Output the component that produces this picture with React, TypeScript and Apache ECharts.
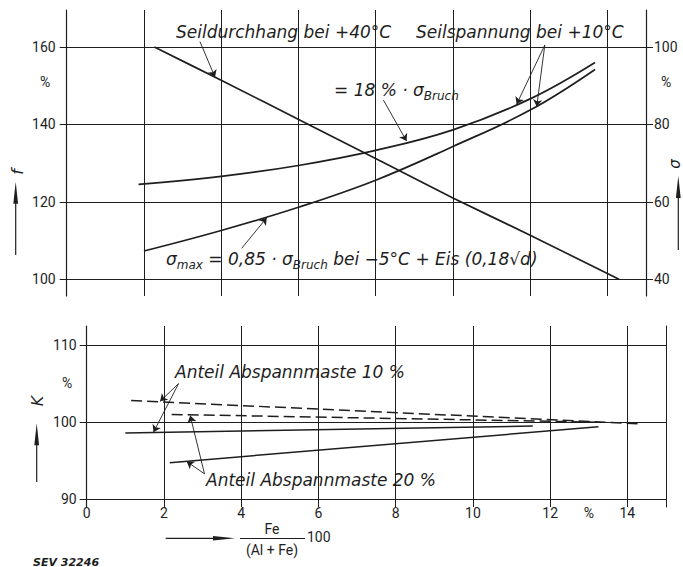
import React, { useEffect, useRef } from 'react';
import * as echarts from 'echarts';

// ---------- upper diagram (abscissa in grid units of the upper diagram) ----------
const topGridTicks = [0, 2, 4, 6, 8, 10, 12, 14]; // vertical grid lines, right border at 15
const topXMax = 15;
const fTicks = [100, 120, 140, 160]; // left axis  f  (%)
const sigmaTicks = [40, 60, 80, 100]; // right axis σ (%)

// Seildurchhang bei +40 °C  (f, left axis)
const sagX = [2.27, 4.0, 6.26, 8.1, 10.0, 12.0, 14.3];
const sagF = [160, 151.4, 140.0, 130.7, 121.0, 111.4, 100];
// Seilspannung = 18 % · σBruch (σ, right axis)
const tension18X = [1.86, 4, 6, 8, 10, 12, 13.68];
const tension18S = [64.5, 66.6, 69.4, 73.3, 78.6, 86.6, 96.0];
// Seilspannung σmax = 0,85 · σBruch (σ, right axis)
const tensionMaxX = [2.0, 4, 6, 8, 10, 12, 13.68];
const tensionMaxS = [47.3, 52.6, 58.6, 65.6, 74.3, 83.7, 94.2];

// leader lines of the labels, [from, to] in (x, f)
const topLeaders = [
  [[3.45, 161.4], [3.84, 152.2]],
  [[8.2, 146.3], [8.8, 135.7]],
  [[12.38, 160.5], [11.65, 145.2]],
  [[12.38, 160.5], [12.17, 144.6]],
  [[4.53, 108.0], [5.18, 115.9]],
];

// ---------- lower diagram ----------
const feTicks = [0, 2, 4, 6, 8, 10, 12, 14];
const feMax = 15;
const kTicks = [90, 100, 110];

const k10DashX = [1.15, 14.3];
const k10DashK = [102.8, 99.8];
const k20DashX = [2.2, 13.2];
const k20DashK = [101.0, 100.0];
const k10SolidX = [1.0, 11.55];
const k10SolidK = [98.6, 99.5];
const k20SolidX = [2.15, 13.25];
const k20SolidK = [94.75, 99.4];

const bottomLeaders = [
  [[2.38, 105.0], [1.9, 102.7]],
  [[2.38, 105.0], [1.73, 98.7]],
  [[3.05, 93.3], [2.68, 100.85]],
  [[3.05, 93.3], [2.59, 94.9]],
];

// ---------- layout ----------
const INK = '#1e1e1e';
const FONT = 'Roboto';
const LETTER = '"DejaVu Sans"';
const L_TOP = { left: 66.7, right: 646, outerTop: 10, plotTop: 47, plotBottom: 279.3, outerBottom: 296 };
const L_BOT = { left: 86.7, right: 666, outerTop: 326, plotTop: 345, plotBottom: 499.3, outerBottom: 507 };

export default function App() {
  const ref = useRef<HTMLDivElement>(null);
  useEffect(() => {
    if (!ref.current) return;
    const chart = echarts.init(ref.current, undefined, { renderer: 'svg' });
    const W = 683;

    const fMin = fTicks[0], fMax = fTicks[fTicks.length - 1];
    const pxPerF = (L_TOP.plotBottom - L_TOP.plotTop) / (fMax - fMin);
    const fOuterMax = fMax + (L_TOP.plotTop - L_TOP.outerTop) / pxPerF;
    const fOuterMin = fMin - (L_TOP.outerBottom - L_TOP.plotBottom) / pxPerF;
    const kMin = kTicks[0], kMax = kTicks[kTicks.length - 1];
    const pxPerK = (L_BOT.plotBottom - L_BOT.plotTop) / (kMax - kMin);
    const kOuterMax = kMax + (L_BOT.plotTop - L_BOT.outerTop) / pxPerK;
    const kOuterMin = kMin - (L_BOT.outerBottom - L_BOT.plotBottom) / pxPerK;

    const zip = (xs: number[], ys: number[]) => xs.map((x, i) => [x, ys[i]]);
    const curve = (name: string, xs: number[], ys: number[], xi: number, yi: number, extra: any = {}) => ({
      type: 'line', name, xAxisIndex: xi, yAxisIndex: yi, data: zip(xs, ys), symbol: 'none',
      silent: true, clip: false, lineStyle: { color: INK, width: 1.7 }, ...extra,
    });
    const leaders = (xi: number, yi: number, list: number[][][]) => ({
      type: 'line', xAxisIndex: xi, yAxisIndex: yi, data: [], silent: true, clip: false,
      markLine: {
        silent: true, symbol: ['none', 'arrow'], symbolSize: 7, animation: false,
        label: { show: false }, emphasis: { disabled: true },
        lineStyle: { color: INK, width: 0.9, type: 'solid' },
        data: list.map(([a, b]) => [{ coord: a }, { coord: b }]),
      },
    });

    const hiddenAxis = { axisLine: { show: false }, axisTick: { show: false }, axisLabel: { show: false }, splitLine: { show: false } };
    const gridLine = { show: true, lineStyle: { color: INK, width: 1 } };
    const label = (margin: number) => ({ color: INK, fontFamily: FONT, fontSize: 14, margin });
    const tick = { show: true, length: 7, lineStyle: { color: INK, width: 1 } };

    const italic = { fontFamily: LETTER, fontStyle: 'italic', fontSize: 17, fill: INK };
    const upright = { fontFamily: FONT, fontStyle: 'normal', fontSize: 14 };
    const txt = (x: number, y: number, text: string, st: any = {}, el: any = {}) => ({
      type: 'text', x, y, silent: true, ...el,
      style: { text, ...italic, verticalAlign: 'middle', align: 'left', ...st },
    });
    const richStyle = {
      n: { fontFamily: LETTER, fontStyle: 'italic', fontSize: 17, fill: INK, color: INK, lineHeight: 23, verticalAlign: 'middle' },
      s: { fontFamily: LETTER, fontStyle: 'italic', fontSize: 12, fill: INK, color: INK, lineHeight: 12, verticalAlign: 'bottom' },
    };
    const arrowUp = (x: number, yBottom: number, yTip: number) => [
      { type: 'line', silent: true, shape: { x1: x, y1: yBottom, x2: x, y2: yTip + 18 }, style: { stroke: INK, lineWidth: 1.2 } },
      { type: 'polygon', silent: true, shape: { points: [[x - 2.4, yTip + 22], [x + 2.4, yTip + 22], [x, yTip]] }, style: { fill: INK } },
    ];

    const option: any = {
      animation: false,
      backgroundColor: '#ffffff',
      grid: [
        { left: L_TOP.left, right: W - L_TOP.right, top: L_TOP.outerTop, height: L_TOP.outerBottom - L_TOP.outerTop, outerBoundsMode: 'none' },
        { left: L_TOP.left, right: W - L_TOP.right, top: L_TOP.plotTop, height: L_TOP.plotBottom - L_TOP.plotTop, outerBoundsMode: 'none' },
        { left: L_BOT.left, right: W - L_BOT.right, top: L_BOT.outerTop, height: L_BOT.outerBottom - L_BOT.outerTop, outerBoundsMode: 'none' },
        { left: L_BOT.left, right: W - L_BOT.right, top: L_BOT.plotTop, height: L_BOT.plotBottom - L_BOT.plotTop, outerBoundsMode: 'none' },
      ],
      xAxis: [
        { gridIndex: 0, type: 'value', min: topGridTicks[0], max: topXMax, interval: topGridTicks[1] - topGridTicks[0], ...hiddenAxis, splitLine: gridLine },
        { gridIndex: 1, type: 'value', min: topGridTicks[0], max: topXMax, ...hiddenAxis },
        { gridIndex: 2, type: 'value', min: feTicks[0], max: feMax, interval: feTicks[1] - feTicks[0], ...hiddenAxis, splitLine: gridLine },
        {
          gridIndex: 3, type: 'value', min: feTicks[0], max: feMax, interval: 1, ...hiddenAxis,
          axisLabel: { ...label(7), show: true, formatter: (v: number) => (feTicks.includes(v) ? String(v) : v === 13 ? '%' : '') },
        },
      ],
      yAxis: [
        { gridIndex: 0, type: 'value', min: fOuterMin, max: fOuterMax, position: 'left', ...hiddenAxis, axisLine: { show: true, lineStyle: { color: INK, width: 1.2 } } },
        { gridIndex: 0, type: 'value', min: 0, max: 1, position: 'right', ...hiddenAxis, axisLine: { show: true, lineStyle: { color: INK, width: 1.2 } } },
        { gridIndex: 1, type: 'value', min: fMin, max: fMax, interval: fTicks[1] - fTicks[0], position: 'left', ...hiddenAxis, axisTick: tick, axisLabel: label(11), splitLine: gridLine },
        { gridIndex: 1, type: 'value', min: sigmaTicks[0], max: sigmaTicks[sigmaTicks.length - 1], interval: sigmaTicks[1] - sigmaTicks[0], position: 'right', ...hiddenAxis, axisTick: tick, axisLabel: label(8) },
        { gridIndex: 2, type: 'value', min: kOuterMin, max: kOuterMax, position: 'left', ...hiddenAxis, axisLine: { show: true, lineStyle: { color: INK, width: 1.2 } } },
        { gridIndex: 2, type: 'value', min: 0, max: 1, position: 'right', ...hiddenAxis, axisLine: { show: true, lineStyle: { color: INK, width: 1 } } },
        { gridIndex: 3, type: 'value', min: kMin, max: kMax, interval: kTicks[1] - kTicks[0], position: 'left', ...hiddenAxis, axisTick: tick, axisLabel: label(10), splitLine: gridLine },
      ],
      series: [
        curve('Seildurchhang bei +40 °C', sagX, sagF, 1, 2, { smooth: 0.2 }),
        curve('Seilspannung 18 % σBruch', tension18X, tension18S, 1, 3, { smooth: 0.4 }),
        curve('Seilspannung σmax', tensionMaxX, tensionMaxS, 1, 3, { smooth: 0.4 }),
        leaders(0, 0, topLeaders),
        curve('Abspannmaste 10 % (gestrichelt)', k10DashX, k10DashK, 3, 6, { lineStyle: { color: INK, width: 1.5, type: [11, 5] } }),
        curve('Abspannmaste 20 % (gestrichelt)', k20DashX, k20DashK, 3, 6, { lineStyle: { color: INK, width: 1.5, type: [11, 5] } }),
        curve('Abspannmaste 10 %', k10SolidX, k10SolidK, 3, 6, { lineStyle: { color: INK, width: 1.5 } }),
        curve('Abspannmaste 20 %', k20SolidX, k20SolidK, 3, 6, { lineStyle: { color: INK, width: 1.5 } }),
        leaders(2, 4, bottomLeaders),
      ],
      graphic: [
        txt(176, 32, 'Seildurchhang bei +40°C'),
        txt(416, 32, 'Seilspannung bei +10°C'),
        { type: 'text', x: 334, y: 90, silent: true, style: { text: '{n|= 18 % · σ}{s|Bruch}', rich: richStyle, verticalAlign: 'middle', align: 'left' } },
        { type: 'text', x: 166, y: 259, silent: true, style: { text: '{n|σ}{s|max}{n| = 0,85 · σ}{s|Bruch}{n| bei −5°C + Eis (0,18√d)}', rich: richStyle, verticalAlign: 'middle', align: 'left' } },
        txt(175, 372, 'Anteil Abspannmaste 10 %'),
        txt(206, 480, 'Anteil Abspannmaste 20 %'),
        // unit marks
        txt(45, 82, '%', { ...upright, align: 'center' }),
        txt(666, 82, '%', { ...upright, align: 'center' }),
        txt(67, 383, '%', { ...upright, align: 'center' }),
        // axis titles
        txt(17, 172, 'f', { fontSize: 16, align: 'center' }, { rotation: Math.PI / 2 }),
        ...arrowUp(15.7, 255, 181.7),
        txt(675, 164, 'σ', { fontSize: 15, align: 'center' }, { rotation: Math.PI / 2 }),
        ...arrowUp(678.3, 250, 176),
        txt(37, 401, 'K', { fontSize: 16, align: 'center' }, { rotation: Math.PI / 2 }),
        ...arrowUp(36.7, 482, 423.3),
        { type: 'line', silent: true, shape: { x1: 165.7, y1: 538.3, x2: 215, y2: 538.3 }, style: { stroke: INK, lineWidth: 1.2 } },
        { type: 'polygon', silent: true, shape: { points: [[213, 536], [213, 540.6], [235, 538.3]] }, style: { fill: INK } },
        txt(272, 528.5, 'Fe', { ...upright, align: 'center' }),
        { type: 'line', silent: true, shape: { x1: 240, y1: 538.5, x2: 305, y2: 538.5 }, style: { stroke: INK, lineWidth: 1 } },
        txt(272, 549.5, '(Al + Fe)', { ...upright, align: 'center' }),
        txt(307, 537, '100', { ...upright }),
        txt(33, 562, 'SEV 32246', { fontSize: 11, fontWeight: 'bold' }),
      ],
    };
    chart.setOption(option);
    return () => chart.dispose();
  }, []);
  return <div ref={ref} style={{ position: 'fixed', left: 0, top: 0, width: 683, height: 567, background: '#fff' }} />;
}
